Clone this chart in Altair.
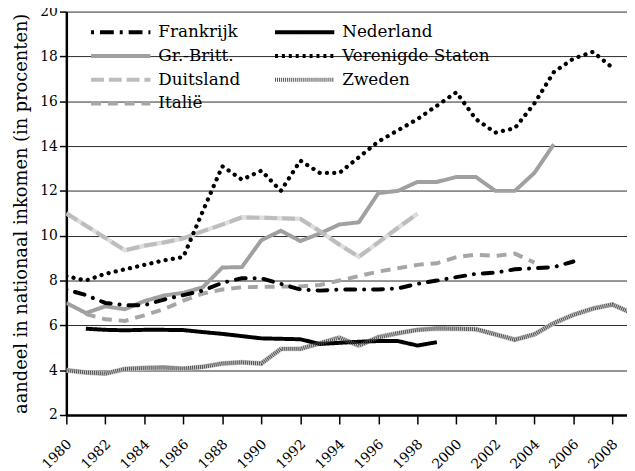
import altair as alt
import pandas as pd

# ---- data ----
# legend order: Vega fills the 2-column legend column by column
landen = ["Frankrijk", "Gr.-Britt.", "Duitsland", "Italië",
          "Nederland", "Verenigde Staten", "Zweden"]

frankrijk_jaren = list(range(1980, 2007))
frankrijk = [7.6, 7.35, 7.0, 6.9, 6.9, 7.15, 7.35, 7.55, 7.9, 8.1, 8.1, 7.85,
             7.6, 7.55, 7.6, 7.6, 7.6, 7.65, 7.85, 8.0, 8.15, 8.3, 8.35, 8.5,
             8.55, 8.6, 8.85]

nederland_jaren = list(range(1981, 2000))
nederland = [5.85, 5.8, 5.78, 5.8, 5.8, 5.79, 5.7, 5.62, 5.52, 5.42, 5.4,
             5.38, 5.17, 5.22, 5.27, 5.3, 5.3, 5.1, 5.25]

gb_jaren = list(range(1980, 2006))
gb = [7.0, 6.55, 6.85, 6.72, 7.08, 7.33, 7.45, 7.7, 8.58, 8.6, 9.8, 10.22,
      9.76, 10.1, 10.5, 10.6, 11.9, 12.0, 12.4, 12.4, 12.62, 12.62, 12.0,
      12.0, 12.8, 14.08]

vs_jaren = list(range(1980, 2009))
vs = [8.2, 8.0, 8.3, 8.5, 8.7, 8.9, 9.05, 11.1, 13.1, 12.5, 12.9, 12.0, 13.35,
      12.8, 12.8, 13.5, 14.2, 14.7, 15.2, 15.8, 16.4, 15.2, 14.6, 14.8, 15.9,
      17.3, 17.9, 18.2, 17.5]

duitsland_jaren = list(range(1980, 1999))
duitsland = [11.0, 10.45, 9.9, 9.35, 9.55, 9.7, 9.88, 10.2, 10.5, 10.82, 10.8,
             10.78, 10.75, 10.2, 9.6, 9.06, 9.7, 10.35, 10.98]

zweden_jaren = list(range(1980, 2010))
zweden = [4.0, 3.9, 3.85, 4.05, 4.1, 4.12, 4.07, 4.15, 4.3, 4.35, 4.3, 4.95,
          4.95, 5.2, 5.45, 5.1, 5.47, 5.65, 5.8, 5.86, 5.85, 5.83, 5.6, 5.36,
          5.6, 6.1, 6.47, 6.75, 6.93, 6.55]

italie_jaren = list(range(1981, 2005))
italie = [6.5, 6.27, 6.2, 6.45, 6.72, 7.1, 7.42, 7.6, 7.7, 7.72, 7.73, 7.74,
          7.8, 8.0, 8.2, 8.4, 8.55, 8.7, 8.77, 9.05, 9.15, 9.1, 9.2, 8.8]

x_ticks = list(range(1980, 2009, 2))
y_ticks = list(range(2, 21, 2))

# ---- long table ----
series = {
    "Frankrijk": (frankrijk_jaren, frankrijk),
    "Nederland": (nederland_jaren, nederland),
    "Gr.-Britt.": (gb_jaren, gb),
    "Verenigde Staten": (vs_jaren, vs),
    "Duitsland": (duitsland_jaren, duitsland),
    "Zweden": (zweden_jaren, zweden),
    "Italië": (italie_jaren, italie),
}
rows = []
for land, (jaren, waarden) in series.items():
    for j, w in zip(jaren, waarden):
        rows.append({"land": land, "jaar": j, "waarde": w})
df = pd.DataFrame(rows)

FONT = "DejaVu Serif"

stijl = {
    "Frankrijk": ("#000000", [3, 6, 14, 6], 4),
    "Gr.-Britt.": ("#a0a0a0", [1, 0], 4),
    "Duitsland": ("#bdbdbd", [13, 5], 4.5),
    "Italië": ("#a6a6a6", [10, 7], 4),
    "Nederland": ("#000000", [1, 0], 4.5),
    "Verenigde Staten": ("#000000", [3, 4], 4),
    "Zweden": ("#505050", [1, 1], 5),
}
kleur = [stijl[l][0] for l in landen]
streep = [stijl[l][1] for l in landen]
dikte = [stijl[l][2] for l in landen]

x = alt.X("jaar:Q",
          scale=alt.Scale(domain=[1980, 2008.75], nice=False, zero=False),
          axis=alt.Axis(values=x_ticks, format="d", labelAngle=-45, title=None,
                        grid=False, tickSize=9, tickWidth=1.5, tickColor="black",
                        domainColor="black", domainWidth=2.5,
                        labelFont=FONT, labelFontSize=14, labelColor="black",
                        labelPadding=13, labelOffset=-2))
y = alt.Y("waarde:Q",
          scale=alt.Scale(domain=[2, 20], nice=False, zero=False),
          axis=alt.Axis(values=y_ticks, title="aandeel in nationaal inkomen (in procenten)",
                        grid=True, gridColor="#2a2a2a", gridWidth=1,
                        tickSize=7, tickWidth=1.5, tickColor="black",
                        domainColor="black", domainWidth=2.5,
                        labelFont=FONT, labelFontSize=14, labelColor="black",
                        labelPadding=2,
                        titleFont=FONT, titleFontSize=18, titleFontWeight="normal",
                        titleColor="black", titlePadding=9))

base = alt.Chart(df).encode(x=x, y=y, detail="land:N")

zweden_onder = base.transform_filter(alt.datum.land == "Zweden").mark_line(
    color="#c8c8c8", strokeWidth=5, clip=True)
duits_onder = base.transform_filter(alt.datum.land == "Duitsland").mark_line(
    color="#dedede", strokeWidth=4.5, clip=True)

hoofd = base.transform_filter(
    (alt.datum.land != "Verenigde Staten") & (alt.datum.land != "Frankrijk")
).mark_line(clip=True, strokeCap="butt").encode(
    color=alt.Color("land:N", scale=alt.Scale(domain=landen, range=kleur),
                    legend=alt.Legend(
                        title=None, orient="none", legendX=25, legendY=9,
                        columns=2, symbolType="M-3,0H3", symbolSize=400,
                        symbolStrokeWidth=4, symbolOffset=18,
                        labelOffset=26, labelFont=FONT, labelFontSize=17,
                        labelColor="black", rowPadding=4, columnPadding=27,
                        padding=0, labelLimit=300)),
    strokeDash=alt.StrokeDash("land:N", scale=alt.Scale(domain=landen, range=streep)),
    strokeWidth=alt.StrokeWidth("land:N", scale=alt.Scale(domain=landen, range=dikte)),
)

frank = base.transform_filter(alt.datum.land == "Frankrijk").mark_line(
    color="black", strokeWidth=4, strokeCap="round", strokeDash=[0.1, 9, 10, 9],
    clip=True)
vs_lijn = base.transform_filter(alt.datum.land == "Verenigde Staten").mark_line(
    color="black", strokeWidth=4.3, strokeCap="round", strokeDash=[0.1, 7.3],
    clip=True)

chart = alt.layer(zweden_onder, duits_onder, hoofd, frank, vs_lijn).properties(
    width=567, height=408,
    autosize=alt.AutoSizeParams(type="none"),
    padding={"left": 59, "top": 1, "right": 0, "bottom": 54},
).configure(font=FONT).configure_view(stroke=None)

chart.save("out.html", embed_options={"renderer": "svg", "actions": False})
